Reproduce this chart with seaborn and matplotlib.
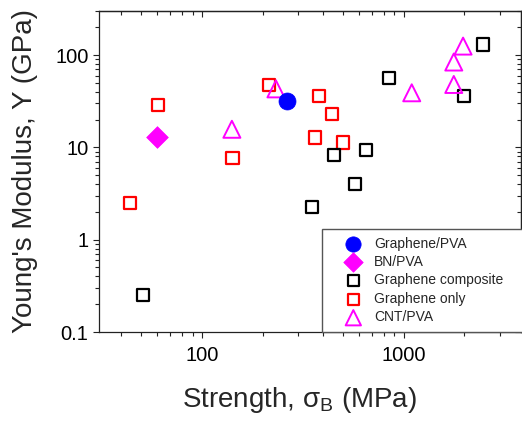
import numpy as np
import pandas as pd
import matplotlib
matplotlib.use("Agg")
import matplotlib.pyplot as plt
import seaborn as sns
from matplotlib.ticker import FixedLocator, FixedFormatter, LogLocator, NullFormatter

# ---- data ----
gpva_x = [265]
gpva_y = [32]
bn_x = [60]
bn_y = [13]
comp_x = [51, 351, 452, 574, 650, 849, 1986, 2466]
comp_y = [0.25, 2.25, 8.3, 4.0, 9.4, 57, 36, 130]
gonly_x = [44, 61, 142, 216, 362, 379, 441, 499]
gonly_y = [2.5, 29, 7.7, 47, 12.8, 36, 23, 11.3]
cnt_x = [141, 233, 1096, 1770, 1770, 1968]
cnt_y = [15.7, 43, 39, 48, 84, 125]

xticks = [100, 1000]
xticklabels = ["100", "1000"]
yticks = [0.1, 1, 10, 100]
yticklabels = ["0.1", "1", "10", "100"]

sns.set_style("ticks")
plt.rcParams["font.family"] = ["Liberation Sans", "DejaVu Sans"]
plt.rcParams["mathtext.fontset"] = "custom"
plt.rcParams["mathtext.rm"] = "Liberation Sans"
plt.rcParams["mathtext.it"] = "Liberation Sans:italic"

frames = []
for name, xs, ys in [("Graphene only", gonly_x, gonly_y),
                     ("Graphene composite", comp_x, comp_y),
                     ("CNT/PVA", cnt_x, cnt_y),
                     ("Graphene/PVA", gpva_x, gpva_y),
                     ("BN/PVA", bn_x, bn_y)]:
    frames.append(pd.DataFrame({"x": xs, "y": ys, "group": name}))
df = pd.concat(frames, ignore_index=True)

styles = {
    "Graphene only": dict(marker="s", s=76, facecolors="none", edgecolors="#FF0000", linewidths=1.6),
    "Graphene composite": dict(marker="s", s=76, facecolors="none", edgecolors="#000000", linewidths=1.6),
    "CNT/PVA": dict(marker="^", s=150, facecolors="none", edgecolors="#FF00FF", linewidths=1.4),
    "Graphene/PVA": dict(marker="o", s=150, facecolors="#0000FF", edgecolors="#0000FF", linewidths=0.5),
    "BN/PVA": dict(marker="D", s=122, facecolors="#FF00FF", edgecolors="#FF00FF", linewidths=0.5),
}

fig = plt.figure(figsize=(5.22, 4.21), dpi=100)
ax = fig.add_axes([0.1897, 0.2114, 0.8093, 0.7625])

for name in ["Graphene only", "Graphene composite", "CNT/PVA", "Graphene/PVA", "BN/PVA"]:
    sub = df[df["group"] == name]
    sns.scatterplot(data=sub, x="x", y="y", ax=ax, label=name, **styles[name])

ax.set_xscale("log")
ax.set_yscale("log")
ax.set_xlim(31, 3830)
ax.set_ylim(0.1, 300)


def set_log_ticks(axis, t, tl=None):
    axis.set_major_locator(FixedLocator(t))
    if tl is not None:
        axis.set_major_formatter(FixedFormatter(tl))
    else:
        axis.set_major_formatter(NullFormatter())
    axis.set_minor_locator(LogLocator(base=10, subs=tuple(range(2, 10)), numticks=100))
    axis.set_minor_formatter(NullFormatter())


set_log_ticks(ax.xaxis, xticks, xticklabels)
set_log_ticks(ax.yaxis, yticks, yticklabels)

tick_col = "#222222"
ax.tick_params(axis="both", which="major", direction="out", length=4, width=0.8,
               labelsize=14.5, color=tick_col, labelcolor="black")
ax.tick_params(axis="both", which="minor", direction="out", length=2.8, width=0.8,
               color=tick_col)
ax.tick_params(axis="x", which="both", bottom=True, top=False)
ax.tick_params(axis="y", which="both", left=True, right=False)
ax.tick_params(axis="x", which="major", pad=6)

# top and right: inward ticks via secondary axes
sec_top = ax.secondary_xaxis("top")
set_log_ticks(sec_top.xaxis, xticks)
sec_top.tick_params(axis="x", which="major", direction="in", length=4, width=0.8, color=tick_col)
sec_top.tick_params(axis="x", which="minor", direction="in", length=2.8, width=0.8, color=tick_col)
sec_right = ax.secondary_yaxis("right")
set_log_ticks(sec_right.yaxis, yticks)
sec_right.tick_params(axis="y", which="major", direction="in", length=4, width=0.8, color=tick_col)
sec_right.tick_params(axis="y", which="minor", direction="in", length=2.8, width=0.8, color=tick_col)

for a in (ax, sec_top, sec_right):
    for sp in a.spines.values():
        sp.set_linewidth(0.9)
        sp.set_color(tick_col)

ax.set_xlabel("Strength, σ$_\\mathregular{B}$ (MPa)", fontsize=20)
ax.xaxis.set_label_coords(0.474, -0.165)
ax.set_ylabel("Young's Modulus, Y (GPa)", fontsize=20)
ax.yaxis.set_label_coords(-0.145, 0.5)

handles, labels = ax.get_legend_handles_labels()
order = ["Graphene/PVA", "BN/PVA", "Graphene composite", "Graphene only", "CNT/PVA"]
hmap = dict(zip(labels, handles))
leg = ax.legend([hmap[o] for o in order], order, loc="upper left",
                bbox_to_anchor=(0.528, 0.0, 0.6, 0.321), mode="expand",
                borderaxespad=0, fontsize=10,
                frameon=True, fancybox=False, edgecolor="#555555", framealpha=1,
                handlelength=3.4, handletextpad=-0.2, labelspacing=0.32, borderpad=0.55,
                markerscale=0.9)
leg.get_frame().set_linewidth(1.0)
leg.set_zorder(10)

fig.savefig("out.png", dpi=100)
